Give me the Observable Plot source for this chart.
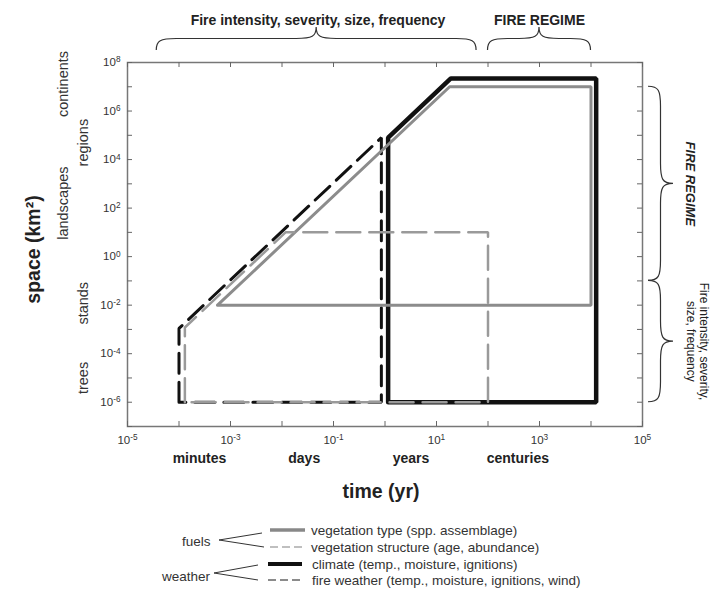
<!DOCTYPE html>
<html><head><meta charset="utf-8">
<script src="https://cdn.jsdelivr.net/npm/d3@7"></script>
<script src="https://cdn.jsdelivr.net/npm/@observablehq/plot@0.6"></script>
<style>
body{margin:0;background:#fff;font-family:"Liberation Sans",Arial,sans-serif;}
#wrap{position:relative;width:712px;height:594px;overflow:hidden;}
#legend{position:absolute;left:0;top:520px;}
#legend text{font-family:"Liberation Sans",Arial,sans-serif;font-size:13.5px;fill:#333;dominant-baseline:central;}
</style></head><body>
<div id="wrap"><div id="chart"></div>
<svg id="legend" width="712" height="74">
  <text x="182" y="21">fuels</text>
  <path d="M262,13 L219,20 L264,27" fill="none" stroke="#333" stroke-width="1"/>
  <line x1="270" x2="305" y1="10" y2="10" stroke="#888" stroke-width="3.5"/>
  <line x1="270" x2="305" y1="27" y2="27" stroke="#aaa" stroke-width="1.3" stroke-dasharray="8,4"/>
  <text x="311" y="10">vegetation type (spp. assemblage)</text>
  <text x="311" y="27">vegetation structure  (age, abundance)</text>
  <text x="162" y="56">weather</text>
  <path d="M258,45 L214,53 L258,60" fill="none" stroke="#333" stroke-width="1"/>
  <line x1="268" x2="302" y1="44" y2="44" stroke="#111" stroke-width="4"/>
  <line x1="268" x2="302" y1="60" y2="60" stroke="#666" stroke-width="1.3" stroke-dasharray="8,4"/>
  <text x="312" y="44">climate (temp., moisture, ignitions)</text>
  <text x="312" y="60">fire weather (temp., moisture, ignitions, wind)</text>
</svg></div>
<script>
// ---- axis ticks (decades) ----
const xTickValues = [1e-5,1e-4,1e-3,1e-2,1e-1,1,1e1,1e2,1e3,1e4,1e5];
const xLabelValues = [1e-5,1e-3,1e-1,1e1,1e3,1e5];
const yTickValues = [1e-7,1e-6,1e-5,1e-4,1e-3,1e-2,1e-1,1,1e1,1e2,1e3,1e4,1e5,1e6,1e7,1e8];
const yLabelValues = [1e-6,1e-4,1e-2,1,1e2,1e4,1e6,1e8];

// ---- scale names ----
const timeUnits = ["minutes","days","years","centuries"];
const timeUnitX = [2.5e-4, 0.027, 3.2, 380];
const outerSpaceUnits = ["continents","landscapes"];
const outerSpaceY = [1.3e7, 160];
const innerSpaceUnits = ["regions","stands","trees"];
const innerSpaceY = [5e4, 0.012, 1e-5];

// ---- series (polygon vertices: time in yr, space in km²) ----
const climateX = [1.15, 1.15, 19, 12600, 12600];
const climateY = [1e-6, 8e4, 2.2e7, 2.2e7, 1e-6];
const fireWeatherX = [1e-4, 1e-4, 0.85, 0.85];
const fireWeatherY = [1e-6, 1.1e-3, 8e4, 1e-6];
const vegTypeX = [5.6e-4, 18, 1e4, 1e4];
const vegTypeY = [1e-2, 1e7, 1e7, 1e-2];
const vegStructureX = [1.3e-4, 1.3e-4, 0.0117, 100, 100];
const vegStructureY = [1e-6, 1.2e-3, 10, 10, 1e-6];

// ---- annotations ----
const topNotes = ["Fire intensity, severity, size, frequency", "FIRE REGIME"];
const topNoteX = [0.05, 1e3];
const topBraceSpans = [[3.7e-5, 60], [100, 1e4]];
const rightBraceSpans = [[1e7, 0.1], [0.1, 1e-6]];
const rightRegimeY = [1e3];
const rightIntensityY = [3.2e-4];

const poly = (xs, ys) => { const p = xs.map((x, i) => ({x, y: ys[i]})); p.push(p[0]); return p; };

function hBrace(x1, x2, y0, h) {
  const xm = (x1 + x2) / 2, ym = y0 - h / 2, yt = y0 - h, r = Math.min(20, (x2 - x1) / 5);
  return `M${x1},${y0} C${x1},${ym+2} ${x1+4},${ym} ${x1+r},${ym} L${xm-r},${ym} C${xm-4},${ym} ${xm},${ym-2} ${xm},${yt} C${xm},${ym-2} ${xm+4},${ym} ${xm+r},${ym} L${x2-r},${ym} C${x2-4},${ym} ${x2},${ym+2} ${x2},${y0}`;
}
function vBrace(y1, y2, x0, h) {
  const ym = (y1 + y2) / 2, xm = x0 + h / 2, xt = x0 + h, r = Math.min(20, (y2 - y1) / 5);
  return `M${x0},${y1} C${xm-2},${y1} ${xm},${y1+4} ${xm},${y1+r} L${xm},${ym-r} C${xm},${ym-4} ${xm+2},${ym} ${xt},${ym} C${xm+2},${ym} ${xm},${ym+4} ${xm},${ym+r} L${xm},${y2-r} C${xm},${y2-4} ${xm-2},${y2} ${x0},${y2}`;
}
function braces(index, {x, y}, values, dim) {
  const g = d3.create("svg:g").attr("fill", "none").attr("stroke", "#333").attr("stroke-width", 1.2);
  for (const [a, b] of topBraceSpans) g.append("path").attr("d", hBrace(x(a), x(b), dim.marginTop - 12, 23));
  const xr = dim.width - dim.marginRight;
  for (const [a, b] of rightBraceSpans) g.append("path").attr("d", vBrace(y(a), y(b), xr + 6, 25));
  return g.node();
}

const fmt = d => "10^" + Math.round(Math.log10(d));
const font = "Liberation Sans, Arial, sans-serif";
const plotH = 520 - 62 - 94, plotW = 712 - 127 - 70;

const chart = Plot.plot({
  width: 712, height: 520,
  marginLeft: 127, marginRight: 70, marginTop: 62, marginBottom: 94,
  style: {fontFamily: font, background: "#fff", overflow: "visible"},
  x: {type: "log", domain: [1e-5, 1e5], axis: null},
  y: {type: "log", domain: [1e-7, 1e8], axis: null},
  marks: [
    Plot.frame({stroke: "#777", strokeWidth: 1.5}),
    Plot.tickX(xTickValues, {x: d => d, insetTop: plotH - 5, stroke: "#666"}),
    Plot.tickX(xTickValues, {x: d => d, insetBottom: plotH - 5, stroke: "#666"}),
    Plot.tickY(yTickValues, {y: d => d, insetRight: plotW - 5, stroke: "#666"}),
    Plot.tickY(yTickValues, {y: d => d, insetLeft: plotW - 5, stroke: "#666"}),
    Plot.axisX(xLabelValues, {anchor: "bottom", tickSize: 0, tickPadding: 9, tickFormat: fmt, fontSize: 11.5, fill: "#333", label: null}),
    Plot.axisY(yLabelValues, {anchor: "left", tickSize: 0, tickPadding: 7, tickFormat: fmt, fontSize: 11.5, fill: "#333", label: null}),
    // series
    Plot.line(poly(climateX, climateY), {x: "x", y: "y", stroke: "#111", strokeWidth: 4.5, strokeLinejoin: "miter"}),
    Plot.line(poly(fireWeatherX, fireWeatherY), {x: "x", y: "y", stroke: "#111", strokeWidth: 3, strokeDasharray: "20,9", strokeLinejoin: "miter"}),
    Plot.line(poly(vegTypeX, vegTypeY), {x: "x", y: "y", stroke: "#8c8c8c", strokeWidth: 3, strokeLinejoin: "miter"}),
    Plot.line(poly(vegStructureX, vegStructureY), {x: "x", y: "y", stroke: "#9a9a9a", strokeWidth: 2.5, strokeDasharray: "24,9", strokeLinejoin: "miter"}),
    // scale names
    Plot.text(timeUnits, {x: timeUnitX, text: d => d, frameAnchor: "bottom", dy: 36, fontSize: 14, fontWeight: "bold", fill: "#222"}),
    Plot.text(outerSpaceUnits, {y: outerSpaceY, text: d => d, frameAnchor: "left", textAnchor: "middle", dx: -64, rotate: -90, fontSize: 14.5, fill: "#333"}),
    Plot.text(innerSpaceUnits, {y: innerSpaceY, text: d => d, frameAnchor: "left", textAnchor: "middle", dx: -44, rotate: -90, fontSize: 14.5, fill: "#333"}),
    Plot.text(["time (yr)"], {frameAnchor: "bottom", dx: -4, dy: 71, fontSize: 19.5, fontWeight: "bold", fill: "#222"}),
    Plot.text(["space (km²)"], {frameAnchor: "left", textAnchor: "middle", dx: -94, dy: 5, rotate: -90, fontSize: 19.5, fontWeight: "bold", fill: "#222"}),
    // annotations
    Plot.text(topNotes, {x: topNoteX, text: d => d, frameAnchor: "top", dy: -47, fontSize: 14, fontWeight: "bold", fontStyle: (d, i) => i === 1 ? "italic" : "normal", fill: "#222"}),
    Plot.text(["FIRE REGIME"], {y: rightRegimeY, frameAnchor: "right", textAnchor: "middle", dx: 48, rotate: 90, fontSize: 13, fontWeight: "bold", fontStyle: "italic", fill: "#222"}),
    Plot.text(["Fire intensity, severity,\nsize, frequency"], {y: rightIntensityY, frameAnchor: "right", textAnchor: "middle", dx: 55, rotate: 90, fontSize: 12, lineHeight: 1.05, fill: "#222"}),
    braces
  ]
});
// superscript exponents on tick labels
d3.select(chart).selectAll("text").each(function () {
  const m = /^10\^(-?\d+)$/.exec(this.textContent);
  if (!m) return;
  const el = d3.select(this);
  el.text(null);
  el.append("tspan").text("10");
  el.append("tspan").attr("dy", "-0.45em").attr("font-size", "0.72em").text(m[1]);
});
document.getElementById("chart").appendChild(chart);
</script></body></html>
